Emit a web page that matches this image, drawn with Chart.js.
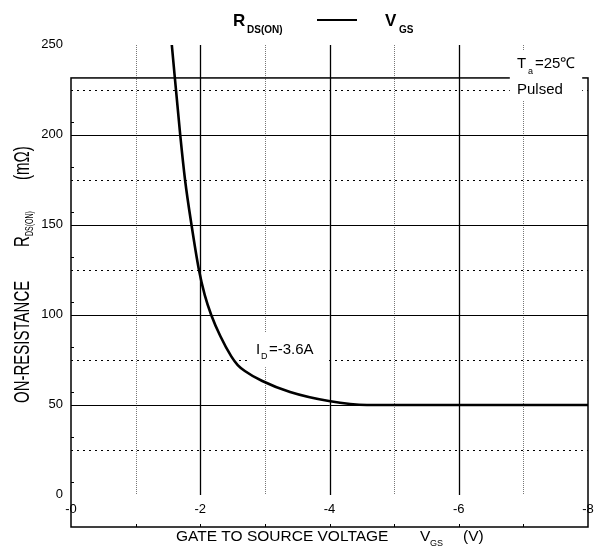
<!DOCTYPE html>
<html>
<head>
<meta charset="utf-8">
<script src="https://cdn.jsdelivr.net/npm/chart.js@4.4.1/dist/chart.umd.min.js"></script>
<style>
    html, body { margin: 0; padding: 0; background: #fff; }
    #wrap { width: 600px; height: 550px; position: relative; }
</style>
</head>
<body>
<div id="wrap"><canvas id="chart"></canvas></div>
<script>
// 곡선 데이터 (V_GS, R_DS(ON))
const vgs = [-1.56, -1.69, -1.765, -1.865, -1.98, -2.07, -2.17, -2.31, -2.48, -2.58, -2.69, -2.96, -3.39, -3.99, -4.58, -8];
const rds = [250, 200, 175, 150, 125, 111, 100, 88.3, 77, 72.2, 68.9, 63.3, 57.2, 52.2, 50, 50];

// 눈금
const xTicks = [0, -2, -4, -6, -8];
const xTickLabels = ['-0', '-2', '-4', '-6', '-8'];
const yTicks = [0, 50, 100, 150, 200, 250];
const yTickLabels = ['0', '50', '100', '150', '200', '250'];
const xMajorGrid = [-2, -4, -6];
const xMinorGrid = [-1, -3, -5, -7];
const yMajorGrid = [50, 100, 150, 200];
const yMinorGrid = [25, 75, 125, 175, 225];
const xAxisTicks = [-1, -2, -3, -4, -5, -6, -7];

const Y_MIN = -17.8;      // 아래 축 위치
const FRAME_TOP = 231.7;  // 위쪽 테두리
const FONT = '"Liberation Sans", Arial, sans-serif';

// 흰 배경 박스 (x1, x2, y1, y2 값 단위)
const boxTa = [-6.79, -7.91, 246.7, 219.4];
const boxId = [-2.73, -3.96, 90, 71];

const gridPlugin = {
    id: 'datasheetGrid',
    beforeDatasetsDraw(chart) {
        const ctx = chart.ctx;
        const xs = chart.scales.x, ys = chart.scales.y;
        const px = v => xs.getPixelForValue(v);
        const py = v => ys.getPixelForValue(v);
        const left = px(0), right = px(-8), bottom = py(Y_MIN), top = py(FRAME_TOP);
        ctx.save();

        // 점선 가로
        ctx.strokeStyle = '#000';
        ctx.lineWidth = 1;
        ctx.setLineDash([2, 4]);
        yMinorGrid.forEach(v => {
            const y = Math.round(py(v)) + 0.5;
            ctx.beginPath(); ctx.moveTo(left, y); ctx.lineTo(right, y); ctx.stroke();
        });
        // 점선 세로
        ctx.strokeStyle = '#777';
        ctx.setLineDash([1, 1]);
        xMinorGrid.forEach(v => {
            const x = Math.round(px(v)) + 0.5;
            ctx.beginPath(); ctx.moveTo(x, py(250)); ctx.lineTo(x, py(0)); ctx.stroke();
        });
        ctx.setLineDash([]);
        ctx.strokeStyle = '#000';
        // 실선 가로
        yMajorGrid.forEach(v => {
            const y = Math.round(py(v)) + 0.5;
            ctx.beginPath(); ctx.moveTo(left, y); ctx.lineTo(right, y); ctx.stroke();
        });
        // 실선 세로
        ctx.lineWidth = 1.3;
        xMajorGrid.forEach(v => {
            const x = Math.round(px(v)) + 0.5;
            ctx.beginPath(); ctx.moveTo(x, py(250)); ctx.lineTo(x, py(0)); ctx.stroke();
        });

        // 테두리
        ctx.lineWidth = 1.5;
        ctx.strokeRect(left, top, right - left, bottom - top);

        // 축 눈금
        ctx.lineWidth = 1;
        xAxisTicks.forEach(v => {
            const x = Math.round(px(v)) + 0.5;
            ctx.beginPath(); ctx.moveTo(x, bottom); ctx.lineTo(x, bottom - 3); ctx.stroke();
        });
        for (let v = Y_MIN + 25; v < FRAME_TOP; v += 25) {
            const y = Math.round(py(v)) + 0.5;
            ctx.beginPath(); ctx.moveTo(left, y); ctx.lineTo(left + 3, y); ctx.stroke();
        }

        // 주석 배경
        ctx.fillStyle = '#fff';
        [boxTa, boxId].forEach(b => {
            ctx.fillRect(px(b[0]), py(b[2]), px(b[1]) - px(b[0]), py(b[3]) - py(b[2]));
        });

        // 눈금 라벨
        ctx.fillStyle = '#000';
        ctx.font = '13px ' + FONT;
        ctx.textAlign = 'right';
        ctx.textBaseline = 'middle';
        yTicks.forEach((v, i) => ctx.fillText(yTickLabels[i], left - 8, py(v) - 1));
        ctx.textAlign = 'center';
        xTicks.forEach((v, i) => ctx.fillText(xTickLabels[i], px(v), bottom - 18));
        ctx.restore();
    },
    afterDraw(chart) {
        const ctx = chart.ctx;
        ctx.save();
        ctx.fillStyle = '#000';
        ctx.strokeStyle = '#000';
        ctx.textAlign = 'left';
        ctx.textBaseline = 'alphabetic';

        // 제목
        ctx.font = 'bold 17px ' + FONT;
        ctx.fillText('R', 233, 26);
        ctx.fillText('V', 385, 26);
        ctx.font = 'bold 10px ' + FONT;
        ctx.fillText('DS(ON)', 247, 33);
        ctx.fillText('GS', 399, 33);
        ctx.lineWidth = 2;
        ctx.beginPath(); ctx.moveTo(317, 20); ctx.lineTo(357, 20); ctx.stroke();

        // Ta / Pulsed
        ctx.font = '15px ' + FONT;
        ctx.fillText('T', 517, 68);
        ctx.fillText('=25\u2103', 535, 68);
        ctx.fillText('Pulsed', 517, 94);
        ctx.font = '9px ' + FONT;
        ctx.fillText('a', 528, 74);

        // I_D
        ctx.font = '15px ' + FONT;
        ctx.fillText('I', 256, 354);
        ctx.fillText('=-3.6A', 269, 354);
        ctx.font = '9px ' + FONT;
        ctx.fillText('D', 261, 359);

        // x축 제목
        ctx.font = '15.5px ' + FONT;
        ctx.fillText('GATE TO SOURCE VOLTAGE', 176, 541);
        ctx.fillText('V', 420, 541);
        ctx.fillText('(V)', 463, 541);
        ctx.font = '9px ' + FONT;
        ctx.fillText('GS', 430, 546);

        // y축 제목 (세로, 길쭉하게)
        ctx.translate(21, 403);
        ctx.rotate(-Math.PI / 2);
        ctx.scale(1, 1.5);
        ctx.font = '15px ' + FONT;
        ctx.fillText('ON-RESISTANCE', 0, 5.3);
        ctx.fillText('R', 156, 5.3);
        ctx.fillText('(m\u03A9)', 223, 5.3);
        ctx.font = '7px ' + FONT;
        ctx.fillText('DS(ON)', 167, 8);
        ctx.restore();
    }
};

new Chart(document.getElementById('chart'), {
    type: 'line',
    data: {
        datasets: [{
            data: vgs.map((v, i) => ({ x: v, y: rds[i] })),
            borderColor: '#000',
            borderWidth: 2.6,
            pointRadius: 0,
            cubicInterpolationMode: 'monotone',
            fill: false,
            clip: false
        }]
    },
    options: {
        responsive: true,
        maintainAspectRatio: false,
        animation: false,
        layout: { padding: { left: 71, right: 12, top: 45, bottom: 23 } },
        plugins: {
            legend: { display: false },
            title: { display: false },
            tooltip: { enabled: false }
        },
        scales: {
            x: { type: 'linear', reverse: true, min: -8, max: 0, display: false },
            y: { type: 'linear', min: Y_MIN, max: 250, display: false }
        }
    },
    plugins: [gridPlugin]
});
</script>
</body>
</html>
